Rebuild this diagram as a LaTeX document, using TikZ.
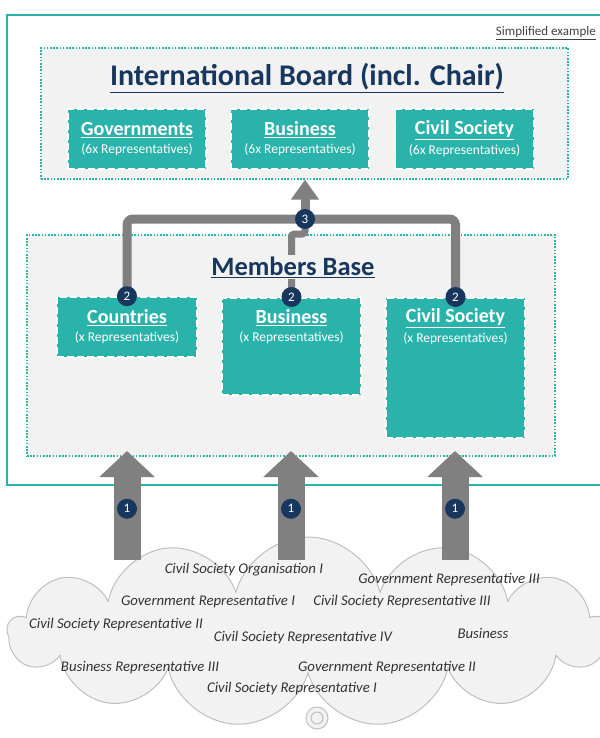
\documentclass[tikz,border=0pt]{standalone}
\usepackage{fontspec}
\setmainfont{Carlito}
\usetikzlibrary{positioning, arrows.meta, shapes.symbols}

\definecolor{tealbox}{RGB}{42,179,171}
\definecolor{navy}{RGB}{23,55,94}
\definecolor{panel}{RGB}{242,242,242}
\definecolor{arrowgrey}{RGB}{128,128,128}

\newcommand{\seatlabel}[2]{{\fontsize{20}{21}\selectfont\bfseries\underline{#1}\vphantom{Gy}}\\[4pt]{\fontsize{13.5}{16}\selectfont #2}}

\begin{document}
\begin{tikzpicture}[x=1pt, y=-1pt, group/.style={
        rectangle,
        draw=tealbox,
        fill=panel,
        dash pattern=on 1.6pt off 1.6pt,
        line width=1.4pt
    }, seat/.style={
        rectangle,
        draw=white,
        fill=tealbox,
        dash pattern=on 7pt off 3pt,
        line width=1.6pt,
        text=white,
        align=center,
        minimum width=138pt,
        minimum height=60pt
    }, seattext/.style={
        text=white,
        align=center
    }, badge/.style={
        circle,
        fill=navy,
        text=white,
        inner sep=0pt,
        minimum size=20pt,
        font=\fontsize{13}{13}\selectfont
    }, link/.style={
        draw=arrowgrey,
        line width=9pt,
        rounded corners=6pt
    }, feed/.style={
        draw=arrowgrey,
        line width=27pt,
        -{Triangle[width=54pt, length=26pt]}
    }, heading/.style={
        text=navy,
        font=\bfseries\fontsize{30}{32}\selectfont
    }, rep/.style={
        text=black!80,
        font=\itshape\fontsize{14.8}{15}\selectfont,
        inner sep=0pt
    }]
    \useasboundingbox (0,0) rectangle (599,738);

    % outer frame and board
    \draw [tealbox, line width=2pt] (7,15) rectangle (612,485);
    \node (note) [anchor=east, text=black!75, inner sep=0pt, font=\fontsize{13}{13}\selectfont] at (596,33) {\underline{Simplified example}};
    \node (board) [group, minimum width=527pt, minimum height=131pt] at (304.5,113.5) {};
    \node (boardtitle) [heading] at (307,78) {\underline{International Board (incl. Chair)}};
    \node (govts) [seat] at (137,139) {\seatlabel{Governments}{(6x Representatives)}};
    \node (bizseat) [seat] at (300,139) {\seatlabel{Business}{(6x Representatives)}};
    \node (civseat) [seat] at (464.5,139) {\seatlabel{Civil Society}{(6x Representatives)}};

    % members base
    \node (members) [group, minimum width=528pt, minimum height=221pt] at (291,345.5) {};
    \node (countries) [seat, minimum width=140pt, minimum height=60pt] at (127,327) {\seatlabel{Countries}{(x Representatives)}};
    \node (mbiz) [seat, minimum width=139pt, minimum height=97pt, anchor=north] at (291.5,297) {};
    \node (mciv) [seat, minimum width=139pt, minimum height=140pt, anchor=north] at (455.5,297) {};
    \node (mbiztext) [seattext] at (mbiz.north |- countries) {\seatlabel{Business}{(x Representatives)}};
    \node (mcivtext) [seattext] at (mciv.north |- countries) {\seatlabel{Civil Society}{(x Representatives)}};

    % step 2 and 3
    \coordinate (hub) at (305,219);
    \coordinate (jog) at (305,234);
    \draw [link] (countries.north) |- (hub) -| (mciv.north);
    \draw [link, line width=7pt, rounded corners=3pt] (mbiz.north) -- (mbiz.north |- jog) -- (jog) -- (hub);
    \draw [arrowgrey, line width=9pt, -{Triangle[width=27pt, length=20pt]}] (hub) -- (board.south -| hub);
    \node (membertitle) [heading, fill=panel, inner sep=2pt, font=\bfseries\fontsize{26.5}{28}\selectfont] at (293,267) {\underline{Members Base}};
    \node (s2a) [badge] at (countries.north) {2};
    \node (s2b) [badge] at (mbiz.north) {2};
    \node (s2c) [badge] at (mciv.north) {2};
    \node (s3) [badge] at (hub) {3};

    % crowd of stakeholders
    \node (crowd) [cloud, cloud puffs=13, aspect=3.2, draw=black!25, fill=panel, line width=1pt, minimum width=600pt, minimum height=190pt] at (308,632) {};
    \draw [draw=black!25, fill=panel, line width=1pt] (317,718) circle (11pt);
    \draw [draw=black!25, line width=1pt] (317,718) circle (6pt);

    % step 1
    \coordinate (src1) at (127,560);
    \coordinate (src2) at (291,560);
    \coordinate (src3) at (455,560);
    \coordinate (dst1) at (127,451);
    \coordinate (dst2) at (291,451);
    \coordinate (dst3) at (455,451);
    \draw [feed] (src1) -- node[badge, pos=0.47] {1} (dst1);
    \draw [feed] (src2) -- node[badge, pos=0.47] {1} (dst2);
    \draw [feed] (src3) -- node[badge, pos=0.47] {1} (dst3);

    \node (cso1) [rep] at (244,570) {Civil Society Organisation I};
    \node (gov3) [rep] at (449,580) {Government Representative III};
    \node (gov1) [rep] at (208,602) {Government Representative I};
    \node (civ3) [rep] at (402,602) {Civil Society Representative III};
    \node (civ2) [rep] at (116,625) {Civil Society Representative II};
    \node (civ4) [rep] at (303,638) {Civil Society Representative IV};
    \node (biz) [rep] at (483,633) {Business};
    \node (biz3) [rep] at (140,668) {Business Representative III};
    \node (gov2) [rep] at (387,668) {Government Representative II};
    \node (civ1) [rep] at (292,689) {Civil Society Representative I};
\end{tikzpicture}
\end{document}
